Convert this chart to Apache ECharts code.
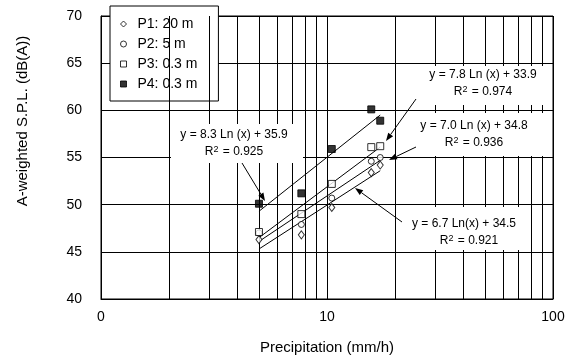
<!DOCTYPE html>
<html><head><meta charset="utf-8">
<script src="https://cdn.jsdelivr.net/npm/echarts@6/dist/echarts.min.js"></script>
<style>html,body{margin:0;padding:0;background:#fff}#c{width:572px;height:360px}</style>
</head><body><div id="c"></div>
<script>
// ---- data ----
const xValues = [5, 7.7, 10.5, 15.7, 17.2];
const p1 = [46.3, 46.8, 49.7, 53.4, 54.2];
const p2 = [47.0, 47.9, 50.7, 54.6, 55.0];
const p3 = [47.1, 49.0, 52.2, 56.1, 56.2];
const p4 = [50.1, 51.2, 55.9, 60.1, 58.9];
const trendX = [5, 17.2];
const p1Trend = [45.3, 53.6];
const p2Trend = [46.1, 54.7];
const p3Trend = [46.5, 56.1];
const p4Trend = [49.3, 59.5];
const seriesNames = ['P1: 20 m', 'P2: 5 m', 'P3: 0.3 m', 'P4: 0.3 m'];
const xMinorGrid = [2, 3, 4, 5, 6, 7, 8, 9, 20, 30, 40, 50, 60, 70, 80, 90];
const xTicks = [1, 10, 100];
const xTickLabels = ['0', '10', '100'];
const equations = [
  ['y = 6.7 Ln(x) + 34.5', '0.921'],
  ['y = 7.0 Ln (x) + 34.8', '0.936'],
  ['y = 7.8 Ln (x) + 33.9', '0.974'],
  ['y = 8.3 Ln (x) + 35.9', '0.925']
];

const FONT = '"Liberation Sans", Arial, sans-serif';
const pair = (xs, ys) => xs.map((x, i) => [x, ys[i]]);
const hollow = {color: '#fff', borderColor: '#000', borderWidth: 1};
const filled = {color: '#000', borderColor: '#000', borderWidth: 1};
const symbols = ['diamond', 'circle', 'rect', 'rect'];
const sizes = [[6, 8], 6, 7, 7];
const styles = [hollow, hollow, hollow, filled];
const pts = [p1, p2, p3, p4];
const trends = [p1Trend, p2Trend, p3Trend, p4Trend];

const series = [];
// minor log gridlines
series.push({
  type: 'line', data: [], z: 1, silent: true,
  markLine: {
    silent: true, symbol: ['none', 'none'], label: {show: false},
    lineStyle: {color: '#000', width: 1, type: 'solid'},
    emphasis: {disabled: true},
    data: xMinorGrid.map(v => ({xAxis: v}))
  }
});
trends.forEach((t, i) => {
  series.push({
    type: 'line', name: 'trend' + i, data: pair(trendX, t), symbol: 'none', z: 3,
    lineStyle: {color: '#000', width: 1}, silent: true
  });
});
pts.forEach((p, i) => {
  series.push({
    type: 'scatter', name: seriesNames[i], data: pair(xValues, p),
    symbol: symbols[i], symbolSize: sizes[i], itemStyle: styles[i], z: 10 + i
  });
});

function arrow(x1, y1, x2, y2) {
  const a = Math.atan2(y2 - y1, x2 - x1), L = 8, W = 3;
  const bx = x2 - L * Math.cos(a), by = y2 - L * Math.sin(a);
  const px = -Math.sin(a) * W, py = Math.cos(a) * W;
  return [
    {type: 'line', z: 60, shape: {x1: x1, y1: y1, x2: bx, y2: by}, style: {stroke: '#000', lineWidth: 1}},
    {type: 'polygon', z: 60, shape: {points: [[x2, y2], [bx + px, by + py], [bx - px, by - py]]}, style: {fill: '#000'}}
  ];
}
function txt(s, x, y, size) {
  return {type: 'text', z: 60, x: x, y: y, style: {text: s, font: size + 'px ' + FONT, fill: '#000',
    align: 'center', verticalAlign: 'middle', textAlign: 'center', textVerticalAlign: 'middle'}};
}
function r2(v, x, y) {
  return {type: 'text', z: 60, x: x, y: y, style: {text: 'R{s|2} = ' + v, font: '12px ' + FONT, fill: '#000',
    align: 'center', verticalAlign: 'middle', textAlign: 'center', textVerticalAlign: 'middle',
    rich: {s: {fontSize: 9, fontFamily: FONT, fill: '#000', verticalAlign: 'top', padding: [0, 1, 4, 0]}}}};
}
function box(x, y, w, h) {
  return {type: 'rect', z: 50, shape: {x: x, y: y, width: w, height: h}, style: {fill: '#fff'}};
}

const graphics = [
  box(171, 124, 132, 39), box(400, 66, 148, 39), box(400, 113, 148, 43), box(400, 207, 130, 43),
  txt(equations[3][0], 234, 135, 12), r2(equations[3][1], 234, 152),
  txt(equations[2][0], 483, 75, 12), r2(equations[2][1], 483, 92),
  txt(equations[1][0], 474, 126, 12), r2(equations[1][1], 474, 143),
  txt(equations[0][0], 464, 224, 12), r2(equations[0][1], 469, 241),
  ...arrow(242, 163, 265, 201),
  ...arrow(416, 99, 386, 141),
  ...arrow(416, 147, 389, 160),
  ...arrow(402, 222, 355, 188),
  txt('Precipitation (mm/h)', 327, 348, 15),
  {type: 'text', z: 60, x: 23, y: 121, rotation: Math.PI / 2,
   style: {text: 'A-weighted S.P.L. (dB(A))', font: '15px ' + FONT, fill: '#000',
   align: 'center', verticalAlign: 'middle', textAlign: 'center', textVerticalAlign: 'middle'}}
];

const chart = echarts.init(document.getElementById('c'));
chart.setOption({
  animation: false,
  backgroundColor: '#fff',
  grid: {left: 101, right: 19, top: 16, bottom: 61, show: true, borderColor: '#000', borderWidth: 1},
  xAxis: {
    type: 'log', logBase: 10, min: 1, max: 100,
    axisLine: {lineStyle: {color: '#000'}}, axisTick: {show: false},
    axisLabel: {color: '#000', fontSize: 14, fontFamily: FONT, margin: 11,
      formatter: v => { const i = xTicks.indexOf(v); return i >= 0 ? xTickLabels[i] : ''; }},
    splitLine: {show: true, lineStyle: {color: '#000', width: 1}}
  },
  yAxis: {
    type: 'value', min: 40, max: 70, interval: 5,
    axisLine: {show: true, lineStyle: {color: '#000'}}, axisTick: {show: false},
    axisLabel: {color: '#000', fontSize: 14, fontFamily: FONT, margin: 19},
    splitLine: {show: true, lineStyle: {color: '#000', width: 1}}
  },
  legend: {
    orient: 'vertical', left: 110, top: 6,
    padding: [11, 21, 10, 10], itemGap: 6, itemWidth: 6, itemHeight: 6,
    backgroundColor: '#fff', borderColor: '#000', borderWidth: 1,
    textStyle: {color: '#000', fontSize: 14, fontFamily: FONT, padding: [0, 0, 0, 6]},
    data: seriesNames.map((n, i) => ({name: n, icon: symbols[i], itemStyle: styles[i]}))
  },
  graphic: {elements: graphics},
  series: series
});
</script></body></html>
